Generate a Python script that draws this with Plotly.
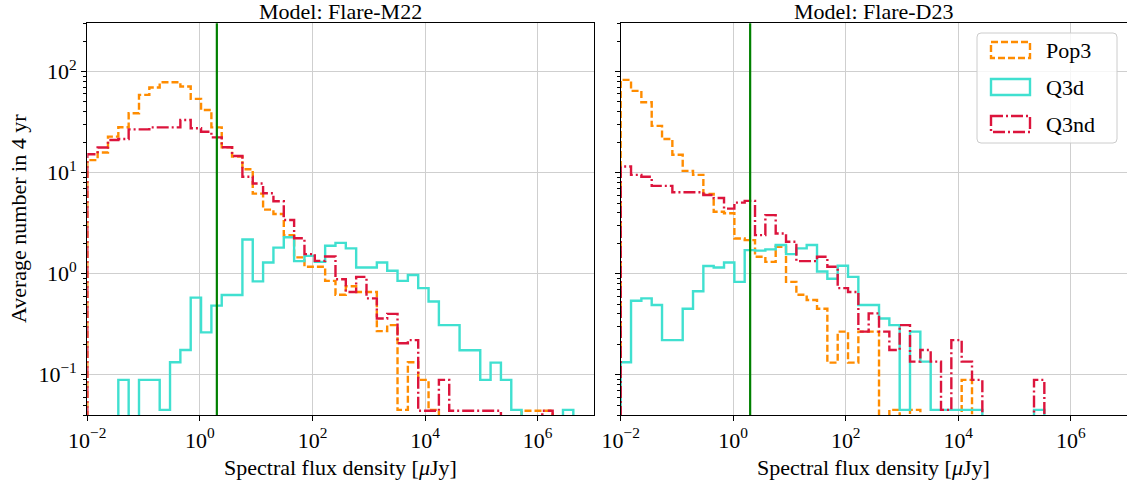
import numpy as np
import plotly.graph_objects as go

# ---------------- data ----------------
# histogram bin edges in µJy (log-spaced, 49 bins from 1e-2 to 1e7)
bin_edges = np.logspace(-2, 7, 50)

# Model: Flare-M22 (left panel)
m22_pop3 = [13.3, 15.8, 22.7, 28.1, 38.6, 58.7, 69.5, 78.4, 78.4, 71.0,
            53.6, 41.7, 28.0, 17.8, 14.4, 10.8, 6.2, 4.3, 3.9, 2.4,
            1.45, 1.17, 1.17, 0.85, 0.62, 0.75, 0.66, 0.66, 0.27, 0.31,
            0.045, 0.133, 0.089, 0.045, 0, 0, 0, 0, 0, 0,
            0, 0, 0.044, 0.044, 0.044, 0, 0, 0, 0]
m22_q3d = [0, 0, 0, 0.089, 0, 0.089, 0.089, 0.045, 0.133, 0.176,
           0.58, 0.263, 0.483, 0.615, 0.615, 2.18, 0.84, 1.29, 1.81, 2.29,
           1.33, 1.5, 1.31, 1.89, 2.02, 1.78, 1.15, 1.15, 1.29, 1.07,
           0.85, 0.97, 0.72, 0.53, 0.31, 0.31, 0.175, 0.175, 0.089, 0.132,
           0.089, 0.045, 0, 0, 0, 0, 0.045, 0, 0]
m22_q3nd = [15.2, 17.7, 21.0, 21.5, 26.8, 26.8, 28.0, 28.0, 28.0, 33.2,
            27.5, 25.4, 22.3, 17.8, 14.6, 9.1, 7.8, 6.25, 5.2, 3.4,
            2.24, 1.56, 1.34, 1.48, 0.88, 0.66, 0.93, 0.57, 0.36, 0.40,
            0.205, 0.22, 0.044, 0.044, 0.089, 0.044, 0.044, 0.044, 0.044, 0.044,
            0, 0, 0, 0, 0.044, 0, 0, 0, 0]

# Model: Flare-D23 (right panel)
d23_pop3 = [82.7, 64.4, 49.7, 29.0, 21.5, 15.0, 10.4, 9.5, 6.15, 4.1,
            3.96, 2.23, 2.15, 1.47, 1.31, 1.85, 0.83, 0.62, 0.55, 0.45,
            0.132, 0.267, 0.132, 0.267, 0.267, 0, 0.045, 0, 0.045, 0,
            0, 0, 0, 0.089, 0, 0, 0, 0, 0, 0,
            0, 0, 0, 0, 0, 0, 0, 0, 0]
d23_q3d = [0.133, 0.54, 0.57, 0.49, 0.22, 0.22, 0.45, 0.67, 1.19, 1.15,
           1.29, 0.83, 1.71, 1.69, 1.74, 1.92, 1.56, 1.78, 1.92, 1.05,
           0.89, 1.2, 0.93, 0.49, 0.49, 0.36, 0.31, 0.045, 0.267, 0.135,
           0.045, 0.045, 0.045, 0.045, 0.045, 0, 0, 0, 0, 0,
           0.045, 0, 0, 0, 0, 0, 0, 0, 0]
d23_q3nd = [11.5, 9.5, 9.1, 7.4, 7.4, 6.4, 6.4, 6.4, 6.0, 5.6,
            4.4, 5.05, 5.25, 2.41, 3.8, 2.5, 2.07, 1.33, 1.33, 1.47,
            1.17, 0.72, 0.66, 0.267, 0.405, 0.267, 0.176, 0.31, 0.135, 0.176,
            0.135, 0.045, 0.22, 0.135, 0.089, 0, 0, 0, 0, 0,
            0.089, 0, 0, 0, 0, 0, 0, 0, 0]

series_names = ["Pop3", "Q3d", "Q3nd"]
panel_titles = ["Model: Flare-M22", "Model: Flare-D23"]
threshold_flux = 2.0  # µJy, vertical green line

x_tickvals = [1e-2, 1e0, 1e2, 1e4, 1e6]
x_ticktext = ["10<sup>−2</sup>", "10<sup>0</sup>", "10<sup>2</sup>", "10<sup>4</sup>", "10<sup>6</sup>"]
y_tickvals = [1e-1, 1e0, 1e1, 1e2]
y_ticktext = ["10<sup>−1</sup>", "10<sup>0</sup>", "10<sup>1</sup>", "10<sup>2</sup>"]
y_range = [0.04, 300]
x_range = [1e-2, 1e7]

# ---------------- styling ----------------
W, H = 1127, 481
FONT = "Liberation Serif"
FS = 22
colors = {"Pop3": "#FF8C00", "Q3d": "#40E0D0", "Q3nd": "#DC143C"}
dashes = {"Pop3": "7px,3px", "Q3d": "solid", "Q3nd": "12px,3px,2px,3px"}
LW = 2.4
FLOOR = 1e-4


def px_x(p):
    return p / W


def px_y(p):
    return 1 - p / H


left_dom = [px_x(87.3), px_x(594.0)]
right_dom = [px_x(620.7), 1.0]
y_dom = [px_y(415.0), px_y(23.3)]


def step_xy(vals):
    v = [val if val > 0 else FLOOR for val in vals]
    xs = [bin_edges[0]] + list(bin_edges[:-1]) + [bin_edges[-1], bin_edges[-1]]
    ys = [FLOOR] + v + [v[-1], FLOOR]
    return xs, ys


fig = go.Figure()
panels = [("x", "y", [m22_pop3, m22_q3d, m22_q3nd]),
          ("x2", "y2", [d23_pop3, d23_q3d, d23_q3nd])]
for xa, ya, data in panels:
    for name, vals in zip(series_names, data):
        xs, ys = step_xy(vals)
        fig.add_trace(go.Scatter(
            x=xs, y=ys, mode="lines", line_shape="hv",
            line=dict(color=colors[name], width=LW, dash=dashes[name]),
            xaxis=xa, yaxis=ya, showlegend=False, name=name,
            hoverinfo="skip"))

minor_y = [m * 10.0 ** e for e in range(-2, 3) for m in range(2, 10)
           if y_range[0] <= m * 10.0 ** e <= y_range[1]]

axis_common = dict(showline=True, linecolor="black", linewidth=1.2,
                   ticks="outside", ticklen=5, tickwidth=1.1, tickcolor="black",
                   showgrid=True, gridcolor="#cfcfcf", gridwidth=1.1,
                   zeroline=False, automargin=False,
                   tickfont=dict(family=FONT, size=FS, color="black"))

xaxis_cfg = dict(type="log", range=[np.log10(x_range[0]), np.log10(x_range[1])],
                 tickmode="array", tickvals=x_tickvals, ticktext=x_ticktext,
                 mirror=True, **axis_common)
yaxis_cfg = dict(type="log", range=[np.log10(y_range[0]), np.log10(y_range[1])],
                 tickmode="array", tickvals=y_tickvals, ticktext=y_ticktext,
                 domain=y_dom,
                 minor=dict(ticks="outside", ticklen=3, tickwidth=0.9, tickcolor="black",
                            tickvals=minor_y, showgrid=False),
                 **axis_common)

fig.update_layout(
    width=W, height=H,
    margin=dict(l=0, r=0, t=0, b=0, autoexpand=False),
    paper_bgcolor="white", plot_bgcolor="white",
    font=dict(family=FONT, size=FS, color="black"),
    showlegend=False,
    xaxis=dict(domain=left_dom, anchor="y", **xaxis_cfg),
    xaxis2=dict(domain=right_dom, anchor="y2", **xaxis_cfg),
    yaxis=dict(anchor="x", mirror=True, **yaxis_cfg),
    yaxis2=dict(anchor="x2", mirror=False, **yaxis_cfg),
)
fig.update_layout(yaxis2=dict(showticklabels=False))

shapes = []
for xa in ["x", "x2"]:
    shapes.append(dict(type="line", xref=xa, yref=("y" if xa == "x" else "y2") + " domain",
                       x0=threshold_flux, x1=threshold_flux, y0=0, y1=1,
                       line=dict(color="green", width=2.2), layer="above"))

# legend box (manual, matplotlib-like patch handles)
lx0, lx1, ly0, ly1 = 977, 1117, 33, 143
r = 4
path = (f"M {px_x(lx0 + r)} {px_y(ly0)} L {px_x(lx1 - r)} {px_y(ly0)} "
        f"Q {px_x(lx1)} {px_y(ly0)} {px_x(lx1)} {px_y(ly0 + r)} "
        f"L {px_x(lx1)} {px_y(ly1 - r)} Q {px_x(lx1)} {px_y(ly1)} {px_x(lx1 - r)} {px_y(ly1)} "
        f"L {px_x(lx0 + r)} {px_y(ly1)} Q {px_x(lx0)} {px_y(ly1)} {px_x(lx0)} {px_y(ly1 - r)} "
        f"L {px_x(lx0)} {px_y(ly0 + r)} Q {px_x(lx0)} {px_y(ly0)} {px_x(lx0 + r)} {px_y(ly0)} Z")
shapes.append(dict(type="path", xref="paper", yref="paper", path=path,
                   fillcolor="rgba(255,255,255,0.8)", line=dict(color="#cccccc", width=1),
                   layer="above"))
annotations = []
for i, name in enumerate(series_names):
    cy = 50 + i * 37
    shapes.append(dict(type="rect", xref="paper", yref="paper",
                       x0=px_x(991), x1=px_x(1030), y0=px_y(cy - 8), y1=px_y(cy + 8),
                       line=dict(color=colors[name], width=LW, dash=dashes[name]),
                       fillcolor="rgba(0,0,0,0)", layer="above"))
    annotations.append(dict(x=px_x(1044), y=px_y(cy), xref="paper", yref="paper",
                            text=name, showarrow=False, xanchor="left", yanchor="middle",
                            font=dict(family=FONT, size=FS, color="black")))

# panel titles
for dom, title in zip([left_dom, right_dom], panel_titles):
    cx = (dom[0] + min(dom[1], px_x(1127.4))) / 2
    annotations.append(dict(x=cx, y=px_y(11), xref="paper", yref="paper", text=title,
                            showarrow=False, xanchor="center", yanchor="middle",
                            font=dict(family=FONT, size=FS, color="black")))
    annotations.append(dict(x=cx, y=px_y(467), xref="paper", yref="paper",
                            text="Spectral flux density [<i>μ</i>Jy]",
                            showarrow=False, xanchor="center", yanchor="middle",
                            font=dict(family=FONT, size=FS, color="black")))
annotations.append(dict(x=px_x(18), y=px_y(219), xref="paper", yref="paper",
                        text="Average number in 4 yr", textangle=-90, showarrow=False,
                        xanchor="center", yanchor="middle",
                        font=dict(family=FONT, size=FS, color="black")))

fig.update_layout(shapes=shapes, annotations=annotations)
fig.write_html("out.html")
